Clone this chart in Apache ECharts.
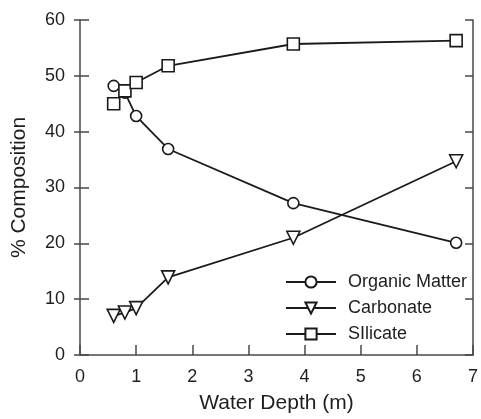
<!DOCTYPE html>
<html>
<head>
<meta charset="utf-8">
<script src="https://cdn.jsdelivr.net/npm/echarts@6/dist/echarts.min.js"></script>
<style>
  html, body { margin: 0; padding: 0; background: #fff; }
</style>
</head>
<body>
<div id="main" style="width: 481px; height: 419px;"></div>
<script>
// water depth (m) of each sample
var depth = [0.6, 0.8, 1.0, 1.57, 3.8, 6.7];
// % composition
var organic = [48.2, 47.0, 42.8, 36.9, 27.2, 20.1];
var carbonate = [7.0, 7.6, 8.4, 13.9, 21.0, 34.7];
var silicate = [45.0, 47.3, 48.8, 51.8, 55.7, 56.3];
var names = ['Organic Matter', 'Carbonate', 'SIlicate'];

var ink = '#1a1a1a';
var axisGrey = '#484848';
var font = 'Liberation Sans, Arial, sans-serif';

function pairs(ys) {
  return depth.map(function (d, i) { return [d, ys[i]]; });
}

function mkSeries(name, ys, symbol, size, rotate) {
  return {
    name: name,
    type: 'line',
    data: pairs(ys),
    symbol: symbol,
    symbolSize: size,
    symbolRotate: rotate,
    lineStyle: { color: ink, width: 1.8 },
    itemStyle: { color: '#fff', borderColor: ink, borderWidth: 1.6 },
    emphasis: { disabled: true },
    z: 3
  };
}

var myChart = echarts.init(document.getElementById('main'));

var option = {
  animation: false,
  grid: { left: 80, right: 2, top: 20, bottom: 64 },
  legend: {
    orient: 'vertical',
    left: 280,
    top: 268,
    itemWidth: 50,
    itemHeight: 14,
    itemGap: 8,
    textStyle: { fontFamily: font, fontSize: 18, color: '#1e1e1e', padding: [0, 0, 0, 7] },
    data: names
  },
  xAxis: {
    type: 'value',
    min: 0,
    max: 7,
    interval: 1,
    name: 'Water Depth (m)',
    nameLocation: 'middle',
    nameGap: 38,
    nameTextStyle: { fontFamily: font, fontSize: 21, color: '#1e1e1e' },
    axisLine: { onZero: false, lineStyle: { color: axisGrey, width: 1.5 } },
    axisTick: { inside: true, length: 10, lineStyle: { color: axisGrey, width: 1.5 } },
    axisLabel: { margin: 13, fontFamily: font, fontSize: 18, color: '#1e1e1e' },
    splitLine: { show: false }
  },
  yAxis: [{
    type: 'value',
    min: 0,
    max: 60,
    interval: 10,
    name: '% Composition',
    nameLocation: 'middle',
    nameGap: 50,
    nameTextStyle: { fontFamily: font, fontSize: 21, color: '#1e1e1e' },
    axisLine: { show: true, onZero: false, lineStyle: { color: axisGrey, width: 1.5 } },
    axisTick: { length: 6, lineStyle: { color: axisGrey, width: 1.5 } },
    axisLabel: { margin: 15, fontFamily: font, fontSize: 18, color: '#1e1e1e' },
    splitLine: { show: false }
  }, {
    // inner half of the crossing ticks on the left axis
    type: 'value',
    position: 'left',
    min: 0,
    max: 60,
    interval: 10,
    axisLine: { show: false },
    axisTick: { inside: true, length: 9, lineStyle: { color: axisGrey, width: 1.5 } },
    axisLabel: { show: false },
    splitLine: { show: false }
  }, {
    type: 'value',
    position: 'right',
    min: 0,
    max: 60,
    interval: 10,
    axisLine: { show: true, lineStyle: { color: axisGrey, width: 1.5 } },
    axisTick: { inside: true, length: 8, lineStyle: { color: axisGrey, width: 1.5 } },
    axisLabel: { show: false },
    splitLine: { show: false }
  }],
  series: [
    mkSeries(names[0], organic, 'circle', 11, 0),
    mkSeries(names[1], carbonate, 'triangle', 13, 180),
    mkSeries(names[2], silicate, 'rect', 12, 0)
  ]
};

myChart.setOption(option);
</script>
</body>
</html>
